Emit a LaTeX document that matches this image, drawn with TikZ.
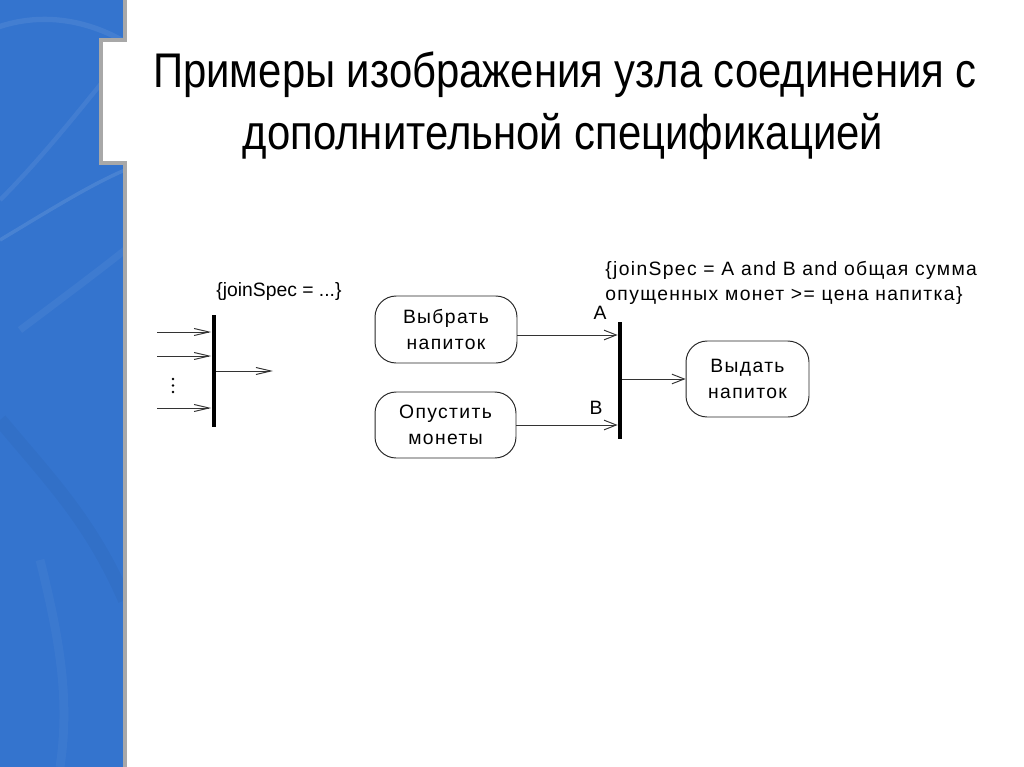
\documentclass[tikz,border=0pt]{standalone}
\usepackage{fontspec}
\setmainfont{Liberation Sans}
\newfontfamily\titlefont[FakeStretch=0.86]{Liberation Sans}
\newfontfamily\diagfont[LetterSpace=7]{Liberation Sans}
\usepackage{tikz}
\usetikzlibrary{arrows.meta,positioning}
\definecolor{bandblue}{RGB}{52,116,206}
\definecolor{bandgray}{RGB}{168,168,168}

\begin{document}
\begin{tikzpicture}[x=0.02cm,y=-0.02cm,
  flow/.style={draw=black!80,line width=0.55pt,-{Straight Barb[length=7pt,width=5.5pt]}},
  inflow/.style={draw=black!80,line width=0.55pt,-{Straight Barb[length=8.5pt,width=4pt]}},
  joinbar/.style={rectangle,fill=black,inner sep=0pt,minimum width=0.08cm},
  action/.style={rectangle,draw=black!85,line width=0.55pt,rounded corners=12pt,align=center,font=\diagfont\fontsize{11}{14.7}\selectfont},
  spec/.style={inner sep=0pt,font=\fontsize{11}{14.2}\selectfont}]
\useasboundingbox (0,0) rectangle (1024,767);
% blue band with notch
\begin{scope}
\clip (0,0) -- (123,0) -- (123,42) -- (99,42) -- (99,161) -- (123,161) -- (123,767) -- (0,767) -- cycle;
\fill[bandblue] (0,0) rectangle (130,767);
\draw[white,opacity=0.08,line width=3pt] (-10,30) .. controls (40,10) and (90,20) .. (130,45);
\draw[white,opacity=0.07,line width=2.5pt] (0,200) .. controls (40,160) and (80,110) .. (120,60);
\draw[white,opacity=0.10,line width=2pt] (0,240) .. controls (50,210) and (90,185) .. (125,170);
\draw[white,opacity=0.05,line width=4pt] (20,330) .. controls (60,300) and (100,270) .. (125,250);
\draw[white,opacity=0.04,line width=5pt] (40,560) .. controls (60,640) and (70,700) .. (60,767);
\draw[black,opacity=0.03,line width=8pt] (0,420) .. controls (50,480) and (90,520) .. (125,600);
\end{scope}
\draw[bandgray,line width=2.3pt] (125,0) -- (125,40) -- (101,40) -- (101,163) -- (125,163) -- (125,767);
% title
\node[anchor=base,inner sep=0pt,font=\titlefont\fontsize{27.7}{35}\selectfont] (title1) at (565,88) {Примеры изображения узла соединения с};
\node[anchor=base,inner sep=0pt,font=\titlefont\fontsize{27.7}{35}\selectfont] (title2) at (563,150) {дополнительной спецификацией};
% general join node
\node[joinbar,minimum height=2.24cm] (bar1) at (213.5,371) {};
\node[spec,anchor=base] (spec1) at (279,296) {\{joinSpec = ...\}};
\foreach \y/\n in {332/1,356/2,408/3} {
  \coordinate (in\n) at (157,\y);
  \draw[inflow] (in\n) -- (in\n -| bar1.west);
}
\foreach \y in {379,385.5,392}
  \fill (173,\y) circle (0.8pt);
\coordinate (out1) at (273,371);
\draw[inflow] (bar1.east |- out1) -- (out1);
% join node with specification
\node[action,minimum width=2.84cm,minimum height=1.34cm] (choose) at (446,329.5) {Выбрать\\напиток};
\node[action,minimum width=2.82cm,minimum height=1.32cm] (coins) at (445.5,425) {Опустить\\монеты};
\node[action,minimum width=2.46cm,minimum height=1.52cm] (give) at (747.5,379) {Выдать\\напиток};
\node[joinbar,minimum height=2.34cm] (bar2) at (620,380.5) {};
\coordinate (a) at (618,335);
\coordinate (b) at (618,425);
\coordinate (c) at (620,379);
\draw[flow] (choose.east |- a) -- (bar2.west |- a);
\draw[flow] (coins.east |- b) -- (bar2.west |- b);
\draw[flow] (bar2.east |- c) -- (give.west);
\node[spec,font=\diagfont\fontsize{11}{14}\selectfont] (lblA) at (600,313) {A};
\node[spec,font=\diagfont\fontsize{11}{14}\selectfont] (lblB) at (596,408) {B};
\node[spec,anchor=base west,align=left,font=\diagfont\fontsize{11}{14.2}\selectfont] (spec2) at (605,300) {\{joinSpec = A and B and общая сумма\\опущенных монет >= цена напитка\}};
\end{tikzpicture}
\end{document}
